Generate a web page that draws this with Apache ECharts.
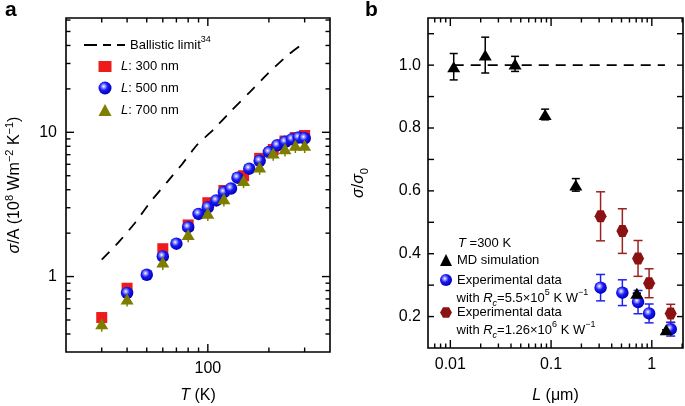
<!DOCTYPE html>
<html><head><meta charset="utf-8">
<script src="https://cdn.jsdelivr.net/npm/echarts@6/dist/echarts.min.js"></script>
<style>html,body{margin:0;padding:0;background:#fff}#c{width:685px;height:406px}</style>
</head><body><div id="c"></div>
<script>
// ---------- Panel a data ----------
const ballisticT   = [30, 37, 44, 52, 63, 75, 88, 107, 131, 161, 198, 248, 296];
const ballisticVal = [1.31, 1.78, 2.38, 3.28, 4.52, 6.06, 8.1, 10.5, 14.2, 19.0, 25.6, 34.3, 41.5];
const l300T   = [30, 40, 60, 80, 100, 120, 150, 180, 210, 240, 270, 300];
const l300Val = [0.52, 0.83, 1.56, 2.28, 3.25, 3.95, 5.0, 6.6, 7.6, 8.7, 9.2, 9.5];
const l500T   = [40, 50, 60, 70, 80, 90, 100, 110, 120, 130, 140, 160, 180, 200, 220, 240, 260, 280, 300];
const l500Val = [0.77, 1.03, 1.38, 1.69, 2.2, 2.72, 3.02, 3.37, 3.85, 4.08, 4.85, 5.6, 6.35, 7.3, 8.13, 8.6, 8.95, 9.2, 9.1];
const l700T   = [30, 40, 60, 80, 100, 120, 150, 180, 210, 240, 270, 300];
const l700Val = [0.47, 0.70, 1.26, 1.96, 2.75, 3.46, 4.64, 5.74, 7.18, 7.7, 8.13, 8.13];
const l700Lo  = [0.415, 0.62, 1.11, 1.73, 2.43, 3.06, 4.1, 5.07, 6.34, 6.8, 7.18, 7.18];

// ---------- Panel b data ----------
const mdL    = [0.0108, 0.0222, 0.0439, 0.0873, 0.176, 0.71, 1.39];
const mdVal  = [0.995, 1.032, 1.004, 0.843, 0.619, 0.274, 0.158];
const mdErr  = [0.042, 0.057, 0.024, 0.017, 0.02, 0, 0];
const expL   = [0.31, 0.51, 0.73, 0.94, 1.54];
const expAVal = [0.292, 0.276, 0.246, 0.21, 0.16];
const expAErr = [0.042, 0.041, 0.037, 0.03, 0.022];
const expBVal = [0.519, 0.472, 0.385, 0.306, 0.21];
const expBErr = [0.078, 0.071, 0.057, 0.046, 0.029];
const unityL   = [0.0108, 1.35];
const unityVal = [1, 1];

// ---------- Axis ranges and tick values ----------
const aXRange = [20, 400];
const aYRange = [0.3, 62];
const bXRange = [0.006, 2.04];
const bYRange = [0.1, 1.15];
const aXMajor = [100];
const aXMinor = [30, 40, 50, 60, 70, 80, 90, 200, 300];
const aYMajor = [1, 10];
const aYMinor = [0.4, 0.5, 0.6, 0.7, 0.8, 0.9, 2, 3, 4, 5, 6, 7, 8, 9, 20, 30, 40, 50, 60];
const bXMajor = [0.01, 0.1, 1];
const bXMinor = [0.007, 0.008, 0.009, 0.02, 0.03, 0.04, 0.05, 0.06, 0.07, 0.08, 0.09,
                 0.2, 0.3, 0.4, 0.5, 0.6, 0.7, 0.8, 0.9, 2];
const bYTicks  = [0.2, 0.3, 0.4, 0.5, 0.6, 0.7, 0.8, 0.9, 1.0, 1.1];
const bYLabels = [0.2, 0.4, 0.6, 0.8, 1.0];

const FONT = '"Liberation Sans", Arial, Helvetica, sans-serif';
function rich(size) {
  const s = Math.round(size * 0.66);
  return {
    n:   {fontSize: size, fontFamily: FONT, color: '#000', lineHeight: size + 6},
    i:   {fontSize: size, fontFamily: FONT, color: '#000', fontStyle: 'italic', lineHeight: size + 6},
    sup: {fontSize: s, fontFamily: FONT, color: '#000', verticalAlign: 'top', lineHeight: s + 1},
    sub: {fontSize: s, fontFamily: FONT, color: '#000', verticalAlign: 'bottom', lineHeight: s + 1},
    isub:{fontSize: s, fontFamily: FONT, color: '#000', fontStyle: 'italic', verticalAlign: 'bottom', lineHeight: s + 1},
    gap: {fontSize: size, width: 4.5, lineHeight: size + 6}
  };
}
const zip = (a, b) => a.map((v, i) => [v, b[i]]);

function axis(gi, pos, type, range, labels, fmt, margin, name, nameGap) {
  const a = {
    gridIndex: gi, position: pos, type: type, min: range[0], max: range[1],
    axisLine: {show: false}, splitLine: {show: false}, minorTick: {show: false},
    axisTick: {show: false}, axisPointer: {show: false},
    axisLabel: {show: true, customValues: labels, formatter: fmt, fontSize: 16,
                fontFamily: FONT, color: '#000', margin: margin},
    name: name, nameLocation: 'middle', nameGap: nameGap,
    nameTextStyle: {rich: rich(16), fontSize: 16, fontFamily: FONT}
  };
  if (type === 'log') a.logBase = 10;
  return a;
}
const fmtNum = v => String(+v.toPrecision(6));
const fmt1 = v => v.toFixed(1);

const xAxes = [
  axis(0, 'bottom', 'log', aXRange, aXMajor, fmtNum, 9, '{i|T}{n| (K)}', 33),
  axis(1, 'bottom', 'log', bXRange, bXMajor, fmtNum, 9, '{i|L}{n| (μm)}', 37)
];
const yAxes = [
  axis(0, 'left', 'log', aYRange, aYMajor, fmtNum, 9, '{i|σ}{n|/A (10}{sup|8}{n| Wm}{sup|−2}{n| K}{sup|−1}{n|)}', 40),
  axis(1, 'left', 'value', bYRange, bYLabels, fmt1, 7, '{i|σ}{n|/}{i|σ}{sub|0}', 58)
];

function errSeries(xs, lo, hi, color, gi, cap) {
  return {
    type: 'custom', xAxisIndex: gi, yAxisIndex: gi, silent: true, z: 3,
    data: xs.map((x, i) => [x, lo[i], hi[i]]),
    encode: {x: 0, y: [1, 2]},
    renderItem: (params, api) => {
      const a = api.coord([api.value(0), api.value(1)]);
      const b = api.coord([api.value(0), api.value(2)]);
      const st = {stroke: color, lineWidth: 1.5};
      const ch = [{type: 'line', shape: {x1: a[0], y1: a[1], x2: b[0], y2: b[1]}, style: st}];
      if (cap) {
        ch.push({type: 'line', shape: {x1: a[0] - cap, y1: a[1], x2: a[0] + cap, y2: a[1]}, style: st});
        ch.push({type: 'line', shape: {x1: b[0] - cap, y1: b[1], x2: b[0] + cap, y2: b[1]}, style: st});
      }
      return {type: 'group', children: ch};
    }
  };
}
const sphere = {type: 'radial', x: 0.4, y: 0.38, r: 0.62, colorStops: [
  {offset: 0, color: '#ffffff'}, {offset: 0.2, color: '#9a9aff'},
  {offset: 0.5, color: '#1a1af5'}, {offset: 1, color: '#0000b8'}]};
const HEX = 'path://M2,0 L1,1.732 L-1,1.732 L-2,0 L-1,-1.732 L1,-1.732 Z';
const DASHICON = 'path://M0,0 H13 V2 H0 Z M19,0 H27 V2 H19 Z M33,0 H41 V2 H33 Z';
const RED = '#ee1b1b', OLIVE = '#7d7d00', DRED = '#8a1212', DREDBAR = '#9a2222', BLUEBAR = '#2222ee';

const labelMap = {
  ballistic: '{n|Ballistic limit}{sup|34}',
  L300: '{gap| }{i|L}{n|: 300 nm}', L500: '{gap| }{i|L}{n|: 500 nm}', L700: '{gap| }{i|L}{n|: 700 nm}',
  md: '{n|MD simulation}', expA: '{n|Experimental data}', expB: '{n|Experimental data}'
};
function leg(name, left, top, w, h, icon) {
  return {data: [icon ? {name: name, icon: icon} : name], left: left, top: top, itemWidth: w, itemHeight: h, padding: 0,
    orient: 'vertical', selectedMode: false, formatter: n => labelMap[n],
    textStyle: {fontSize: 13, fontFamily: FONT, color: '#000', rich: rich(13)}};
}

const baseGraphic = [
  {type: 'text', x: 5, y: 10, style: {text: 'a', font: 'bold 21px ' + FONT, fill: '#000', verticalAlign: 'middle'}},
  {type: 'text', x: 365, y: 10, style: {text: 'b', font: 'bold 21px ' + FONT, fill: '#000', verticalAlign: 'middle'}},
  {type: 'text', x: 458, y: 243, style: {text: '{i|T}{n| =300 K}', rich: rich(13), verticalAlign: 'middle'}},
  {type: 'text', x: 456.5, y: 298, style: {text: '{n|with }{i|R}{isub|c}{n|=5.5×10}{sup|5}{n| K W}{sup|−1}', rich: rich(13), verticalAlign: 'middle'}},
  {type: 'text', x: 456.5, y: 330, style: {text: '{n|with }{i|R}{isub|c}{n|=1.26×10}{sup|6}{n| K W}{sup|−1}', rich: rich(13), verticalAlign: 'middle'}}
];

const option = {
  animation: false,
  backgroundColor: '#fff',
  grid: [
    {left: 66, top: 18, width: 264, height: 334, show: true, borderColor: '#000', borderWidth: 1.6,
     backgroundColor: 'transparent', outerBoundsMode: 'none'},
    {left: 428, top: 18, width: 255, height: 330, show: true, borderColor: '#000', borderWidth: 1.6,
     backgroundColor: 'transparent', outerBoundsMode: 'none'}
  ],
  xAxis: xAxes,
  yAxis: yAxes,
  legend: [
    leg('ballistic', 84, 35.5, 41, 2, DASHICON),
    leg('L300', 98.5, 60, 13, 11),
    leg('L500', 98.5, 81.5, 13, 13),
    leg('L700', 98.5, 103.5, 13, 12),
    leg('md', 440, 253.5, 12, 12),
    leg('expA', 440, 273.5, 12, 12),
    leg('expB', 440, 306, 12, 12)
  ],
  graphic: baseGraphic,
  series: [
    {type: 'line', name: 'ballistic', xAxisIndex: 0, yAxisIndex: 0, data: zip(ballisticT, ballisticVal),
     symbol: 'none', showSymbol: false, smooth: 0.2, lineStyle: {color: '#000', width: 1.8, type: [11, 9]}, itemStyle: {color: '#000'}, z: 2},
    {type: 'scatter', name: 'L300', xAxisIndex: 0, yAxisIndex: 0, data: zip(l300T, l300Val),
     symbol: 'rect', symbolSize: 11, itemStyle: {color: RED, opacity: 1}, z: 3},
    {type: 'scatter', name: 'L500', xAxisIndex: 0, yAxisIndex: 0, data: zip(l500T, l500Val),
     symbol: 'circle', symbolSize: 12.5, itemStyle: {color: sphere, opacity: 1}, z: 4},
    errSeries(l700T, l700Lo, l700Val, OLIVE, 0, 0),
    {type: 'scatter', name: 'L700', xAxisIndex: 0, yAxisIndex: 0, data: zip(l700T, l700Val),
     symbol: 'triangle', symbolSize: [13, 11], itemStyle: {color: OLIVE, opacity: 1}, z: 5},

    {type: 'line', name: 'unity', xAxisIndex: 1, yAxisIndex: 1, data: zip(unityL, unityVal),
     symbol: 'none', lineStyle: {color: '#000', width: 1.6, type: [10, 7]}, z: 2},
    errSeries(mdL, mdVal.map((v, i) => v - mdErr[i]), mdVal.map((v, i) => v + mdErr[i]), '#000', 1, 4),
    errSeries(expL, expBVal.map((v, i) => v - expBErr[i]), expBVal.map((v, i) => v + expBErr[i]), DREDBAR, 1, 4.5),
    errSeries(expL, expAVal.map((v, i) => v - expAErr[i]), expAVal.map((v, i) => v + expAErr[i]), BLUEBAR, 1, 4.5),
    {type: 'scatter', name: 'expB', xAxisIndex: 1, yAxisIndex: 1, data: zip(expL, expBVal),
     symbol: HEX, symbolSize: 12, itemStyle: {color: DRED, opacity: 1}, z: 4},
    {type: 'scatter', name: 'expA', xAxisIndex: 1, yAxisIndex: 1, data: zip(expL, expAVal),
     symbol: 'circle', symbolSize: 12.5, itemStyle: {color: sphere, opacity: 1}, z: 4},
    {type: 'scatter', name: 'md', xAxisIndex: 1, yAxisIndex: 1, data: zip(mdL, mdVal),
     symbol: 'triangle', symbolSize: [13, 11], itemStyle: {color: '#000', opacity: 1}, z: 5}
  ]
};
const chart = echarts.init(document.getElementById('c'), null, {renderer: 'canvas'});
chart.setOption(option);

// tick marks inside the frame on all four sides, positioned through the axes' scales
const tickEls = [];
function addTicks(gi, dir, vals, otherRange, len) {
  vals.forEach(v => {
    const f = {gridIndex: gi};
    const p1 = chart.convertToPixel(f, dir === 'x' ? [v, otherRange[0]] : [otherRange[0], v]);
    const p2 = chart.convertToPixel(f, dir === 'x' ? [v, otherRange[1]] : [otherRange[1], v]);
    if (!p1 || !p2) return;
    const st = {stroke: '#000', lineWidth: 1.4};
    if (dir === 'x') {
      tickEls.push({type: 'line', z: 100, silent: true, shape: {x1: p1[0], y1: p1[1], x2: p1[0], y2: p1[1] - len}, style: st});
      tickEls.push({type: 'line', z: 100, silent: true, shape: {x1: p2[0], y1: p2[1], x2: p2[0], y2: p2[1] + len}, style: st});
    } else {
      tickEls.push({type: 'line', z: 100, silent: true, shape: {x1: p1[0], y1: p1[1], x2: p1[0] + len, y2: p1[1]}, style: st});
      tickEls.push({type: 'line', z: 100, silent: true, shape: {x1: p2[0], y1: p2[1], x2: p2[0] - len, y2: p2[1]}, style: st});
    }
  });
}
addTicks(0, 'x', aXMajor, aYRange, 8);
addTicks(0, 'x', aXMinor, aYRange, 4.5);
addTicks(0, 'y', aYMajor, aXRange, 8);
addTicks(0, 'y', aYMinor, aXRange, 4.5);
addTicks(1, 'x', bXMajor, bYRange, 8);
addTicks(1, 'x', bXMinor, bYRange, 4.5);
addTicks(1, 'y', bYTicks, bXRange, 6);
chart.setOption({graphic: baseGraphic.concat(tickEls)});
</script>
</body></html>
